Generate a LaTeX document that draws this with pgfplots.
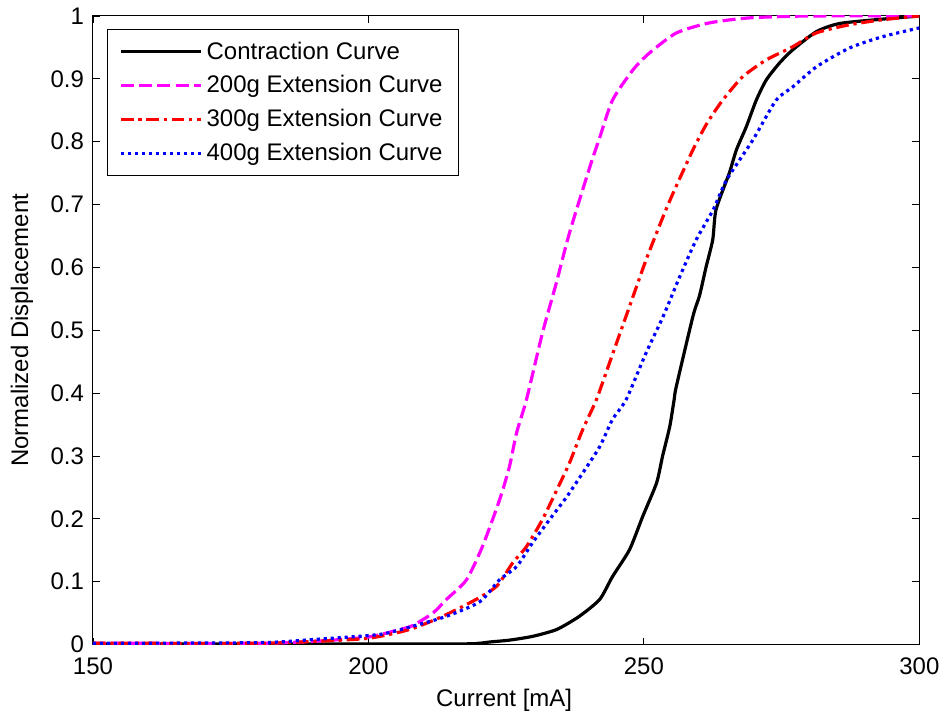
\documentclass[border=0pt]{standalone}
\usepackage{fontspec}
\setmainfont{Liberation Sans}
\usepackage{pgfplots}
\pgfplotsset{compat=1.18}
\definecolor{mmag}{rgb}{1,0,1}
\definecolor{mred}{rgb}{1,0,0}
\definecolor{mblue}{rgb}{0,0,1}
\begin{document}
\begin{tikzpicture}
\begin{axis}[
  scale only axis,
  width=413.5pt, height=314.5pt,
  xmin=150, xmax=300, ymin=0, ymax=1,
  xtick={150,200,250,300},
  ytick={0,0.1,0.2,0.3,0.4,0.5,0.6,0.7,0.8,0.9,1},
  yticklabels={0,0.1,0.2,0.3,0.4,0.5,0.6,0.7,0.8,0.9,1},
  xticklabels={150,200,250,300},
  /pgf/number format/assume math mode=true,
  tick align=inside,
  major tick length=3.5pt,
  tick style={black, line width=0.4pt},
  axis line style={line width=0.5pt},
  font=\fontsize{12}{14}\selectfont,
  ticklabel style={font=\fontsize{12}{14}\selectfont},
  xticklabel style={yshift=-3pt},
  yticklabel style={xshift=-1pt},
  xlabel={Current [mA]},
  ylabel={Normalized Displacement},
  xlabel style={at={(axis description cs:0.5,0)}, anchor=center, yshift=-28pt, xshift=-1pt},
  ylabel style={at={(axis description cs:-0.0859,0.5)}, anchor=center},
  legend cell align=left,
  legend style={at={(axis description cs:0.017,0.979)}, anchor=north west,
    draw=black, line width=0.5pt, fill=white,
    font=\fontsize{12}{14}\selectfont,
    inner xsep=6pt, inner ysep=4pt, row sep=2.7pt},
  legend image code/.code={\draw[#1] (0pt,0pt) -- (38pt,0pt); \path (0pt,0pt) -- (40pt,0pt);},
  every axis plot/.append style={smooth, tension=0.4},
]
\addplot[black, line width=1.6pt, solid] coordinates {
(150,0.001) (215,0.001) (220,0.002) (222,0.004) (225.6,0.007) (229.8,0.013)
(234.2,0.024) (238.3,0.045) (242,0.072) (244.3,0.108) (247.4,0.151)
(249.8,0.204) (252.3,0.257) (253.4,0.30) (254.7,0.347) (255.5,0.39)
(255.9,0.411) (258.9,0.522) (260.1,0.555) (261.3,0.601) (262.5,0.644)
(263.1,0.692) (265.5,0.75) (266.8,0.787) (268.6,0.824) (270.4,0.866)
(272.2,0.898) (274.6,0.925) (277.0,0.946) (281.3,0.975) (285.5,0.988)
(293.3,0.995) (300,1.0)
};
\addlegendentry{Contraction Curve}
\addplot[mmag, line width=1.6pt, dash pattern=on 6.5pt off 2.6pt] coordinates {
(150,0.002) (180,0.002) (190,0.005) (200,0.012) (205.7,0.024) (208,0.03)
(211.7,0.05) (214.2,0.072) (217.8,0.103) (220.7,0.156) (223.8,0.23)
(225.6,0.283) (226.9,0.337) (228.7,0.39) (231.6,0.496) (234.1,0.575)
(236.5,0.655) (240.2,0.76) (242,0.807) (244.3,0.866) (248,0.914)
(251,0.941) (255.9,0.973) (261.9,0.989) (269.2,0.997) (280,1.0) (300,1.0)
};
\addlegendentry{200g Extension Curve}
\addplot[mred, line width=1.6pt, dash pattern=on 6.3pt off 2.4pt on 1.6pt off 2.4pt] coordinates {
(150,0.002) (180,0.002) (190,0.005) (200,0.01) (207.5,0.024) (213.5,0.045)
(219.6,0.072) (223.3,0.093) (226.2,0.130) (228.7,0.156) (231.6,0.199)
(234.2,0.246) (236.5,0.289) (238.9,0.342) (241.4,0.39) (244.4,0.464)
(247.4,0.538) (250.4,0.612) (253.5,0.681) (255.3,0.718) (258.9,0.787)
(261.5,0.83) (264.3,0.866) (267.9,0.903) (272.2,0.930) (277,0.951)
(281.3,0.973) (287.3,0.986) (293.3,0.994) (300,1.0)
};
\addlegendentry{300g Extension Curve}
\addplot[mblue, line width=1.6pt, dash pattern=on 1.6pt off 1.9pt] coordinates {
(150,0.002) (180.3,0.003) (190,0.008) (202,0.016) (208,0.029) (214.2,0.045)
(220.2,0.068) (223.8,0.103) (226.9,0.124) (229.8,0.162) (232.9,0.199)
(236,0.235) (238.9,0.273) (242,0.315) (244.3,0.358) (246.8,0.39)
(250.4,0.464) (253.5,0.522) (256.5,0.585) (259.5,0.644) (262.6,0.692)
(265,0.739) (269.8,0.803) (274,0.866) (277,0.887) (281.3,0.919)
(287.3,0.949) (293.3,0.967) (300,0.981)
};
\addlegendentry{400g Extension Curve}
\end{axis}
\path (current axis.south west) ++(-46.5pt,-35pt) coordinate (bbA);
\path (current axis.north east) ++(13pt,8pt) coordinate (bbB);
\end{tikzpicture}
\end{document}
